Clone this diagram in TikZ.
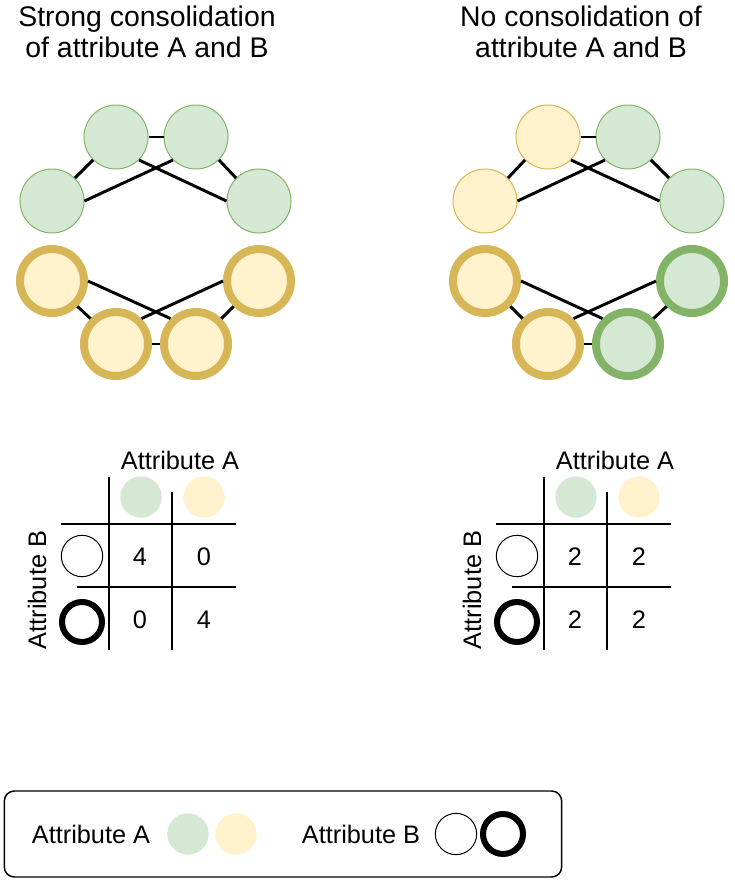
\documentclass[tikz,border=0pt]{standalone}
\usepackage{fontspec}
\setmainfont{Liberation Sans}
\usepackage{xcolor}
\usepackage{tikz}
\usetikzlibrary{positioning}
\definecolor{cngreenfill}{HTML}{D5E8D4}
\definecolor{cngreenline}{HTML}{82B366}
\definecolor{cnyellowfill}{HTML}{FFF2CC}
\definecolor{cnyellowline}{HTML}{D6B656}
\tikzset{
cnbase/.style={circle,inner sep=0pt,minimum size=48pt},
cngreen/.style={cnbase,fill=cngreenfill,draw=cngreenline,line width=0.75pt},
cnyellow/.style={cnbase,fill=cnyellowfill,draw=cnyellowline,line width=0.75pt},
cnthick/.style={line width=6pt},
cnedge/.style={line width=2.2pt},
cngrid/.style={line width=1.1pt},
cnkey/.style={circle,inner sep=0pt,minimum size=31pt},
cnkeygreen/.style={cnkey,fill=cngreenfill},
cnkeyyellow/.style={cnkey,fill=cnyellowfill},
cnkeythin/.style={cnkey,draw,line width=0.75pt},
cnkeythick/.style={cnkey,draw,line width=4.5pt,minimum size=30pt},
cntitle/.style={align=center,inner sep=0pt,font=\fontsize{21.3}{23.3}\selectfont},
cnlabel/.style={inner sep=0pt},
cnlegend/.style={rectangle,rounded corners=7.5pt,draw,line width=1.1pt,minimum width=418pt,minimum height=64.5pt}
}
\begin{document}
\begin{tikzpicture}[
x=0.75pt,
y=-0.75pt,
every node/.style={font=\fontsize{19}{22}\selectfont}
]
\useasboundingbox (0,0) rectangle (735,883);
% titles
\node[cntitle] (titleleft) at (147,32) {Strong consolidation\\of attribute A and B};
\node[cntitle] (titleright) at (581,32) {No consolidation of\\attribute A and B};
% strong consolidation
\node[cngreen] (strongga) at (116,137) {};
\node[cngreen] (stronggb) at (196,137) {};
\node[cngreen] (stronggl) at (52,201) {};
\node[cngreen] (stronggr) at (259,201) {};
\node[cnyellow,cnthick] (strongyl) at (52,281) {};
\node[cnyellow,cnthick] (strongyr) at (259,281) {};
\node[cnyellow,cnthick] (strongya) at (116,344) {};
\node[cnyellow,cnthick] (strongyb) at (196,344) {};
\draw[cnedge] (strongga.east)--(stronggb.west);
\draw[cnedge] (stronggl.north east)--(strongga.south west);
\draw[cnedge] (stronggl.east)--(stronggb.south west);
\draw[cnedge] (strongga.south east)--(stronggr.west);
\draw[cnedge] (stronggb.south east)--(stronggr.north west);
\draw[cnedge] (strongyl.south east)--(strongya.north west);
\draw[cnedge] (strongyl.east)--(strongyb.north west);
\draw[cnedge] (strongyr.west)--(strongya.north east);
\draw[cnedge] (strongyr.south west)--(strongyb.north east);
\draw[cnedge] (strongya.east)--(strongyb.west);
% no consolidation
\node[cnyellow] (noneya) at (548,137) {};
\node[cngreen] (nonegb) at (628,137) {};
\node[cnyellow] (noneyl) at (485,201) {};
\node[cngreen] (nonegr) at (692,201) {};
\node[cnyellow,cnthick] (noneml) at (485,281) {};
\node[cngreen,cnthick] (nonemr) at (692,281) {};
\node[cnyellow,cnthick] (nonema) at (548,344) {};
\node[cngreen,cnthick] (nonemb) at (628,344) {};
\draw[cnedge] (noneya.east)--(nonegb.west);
\draw[cnedge] (noneyl.north east)--(noneya.south west);
\draw[cnedge] (noneyl.east)--(nonegb.south west);
\draw[cnedge] (noneya.south east)--(nonegr.west);
\draw[cnedge] (nonegb.south east)--(nonegr.north west);
\draw[cnedge] (noneml.south east)--(nonema.north west);
\draw[cnedge] (noneml.east)--(nonemb.north west);
\draw[cnedge] (nonemr.west)--(nonema.north east);
\draw[cnedge] (nonemr.south west)--(nonemb.north east);
\draw[cnedge] (nonema.east)--(nonemb.west);
% table, strong
\draw[cngrid] (109,477)--(109,650) (172,492)--(172,650);
\draw[cngrid] (61,524)--(236,524) (77,587)--(236,587);
\node[cnlabel] (stronghead) at (180,460) {Attribute A};
\node[cnlabel,rotate=90] (strongside) at (37,590) {Attribute B};
\node[cnkeygreen] (strongcolg) at (141,497) {};
\node[cnkeyyellow] (strongcoly) at (204,497) {};
\node[cnkeythin] (strongrowthin) at (82,556) {};
\node[cnkeythick] (strongrowthick) at (82,622) {};
\node (strongaa) at (140,557) {4};
\node (strongab) at (204,557) {0};
\node (strongba) at (140,620) {0};
\node (strongbb) at (204,620) {4};
% table, none
\draw[cngrid] (544,477)--(544,650) (607,492)--(607,650);
\draw[cngrid] (496,524)--(671,524) (512,587)--(671,587);
\node[cnlabel] (nonehead) at (615,460) {Attribute A};
\node[cnlabel,rotate=90] (noneside) at (472,590) {Attribute B};
\node[cnkeygreen] (nonecolg) at (576,497) {};
\node[cnkeyyellow] (nonecoly) at (639,497) {};
\node[cnkeythin] (nonerowthin) at (517,556) {};
\node[cnkeythick] (nonerowthick) at (517,622) {};
\node (noneaa) at (575,557) {2};
\node (noneab) at (639,557) {2};
\node (noneba) at (575,620) {2};
\node (nonebb) at (639,620) {2};
% legend
\node[cnlegend] (legend) at (283,834) {};
\node[cnlabel] (legenda) at (91,834) {Attribute A};
\node[cnkeygreen] (legendg) at (188,834) {};
\node[cnkeyyellow] (legendy) at (236,834) {};
\node[cnlabel] (legendb) at (361,834) {Attribute B};
\node[cnkeythin] (legendthin) at (456,834) {};
\node[cnkeythick] (legendthick) at (503,834) {};
\end{tikzpicture}
\end{document}
